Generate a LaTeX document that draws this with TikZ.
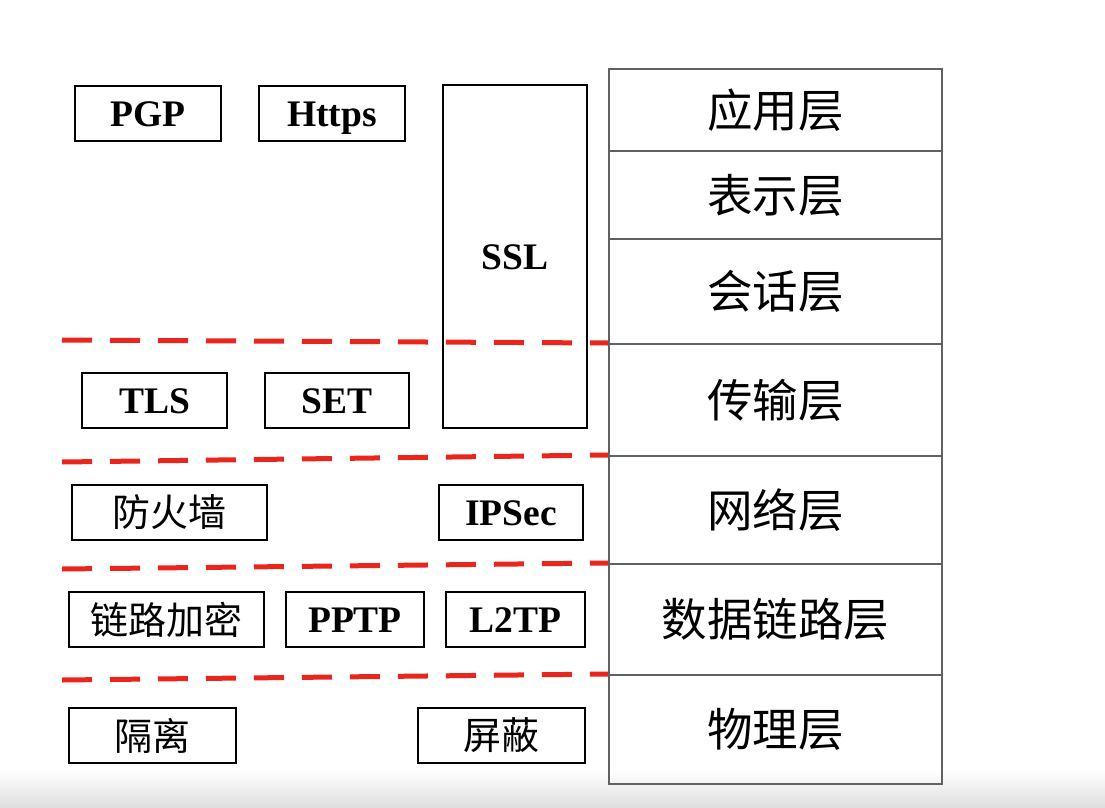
\documentclass[tikz,border=0pt]{standalone}
\usepackage{fontspec}
\setmainfont{Liberation Serif}
\newfontfamily\cjk{Noto Sans CJK SC}
\definecolor{cutred}{RGB}{232,38,28}
\begin{document}
\begin{tikzpicture}
[x=1pt,y=-1pt,%
  proto/.style={draw,line width=2.6pt,inner sep=0pt,minimum height=55pt,%
    text height=25pt,text depth=0pt,%
    font=\fontsize{37.5}{40}\selectfont\bfseries},%
  guard/.style={draw,line width=2.6pt,inner sep=0pt,minimum height=55pt,%
    font=\fontsize{38}{40}\selectfont\cjk},%
  layer/.style={draw=black!62,line width=2pt,inner sep=0pt,minimum width=333pt,%
    font=\fontsize{45.5}{48}\selectfont\cjk},%
  cut/.style={draw=cutred,line width=5pt,dash pattern=on 30pt off 18pt}]
\useasboundingbox (0,0) rectangle (1105,808);
\shade[top color=white,bottom color=black!13] (0,770) rectangle (1105,808);
% OSI layers
\node[layer,minimum height=82pt]  (app)   at (775.5,110)   {应用层};
\node[layer,minimum height=88pt]  (pres)  at (775.5,195)   {表示层};
\node[layer,minimum height=105pt] (sess)  at (775.5,291.5) {会话层};
\node[layer,minimum height=112pt] (trans) at (775.5,400)   {传输层};
\node[layer,minimum height=108pt] (net)   at (775.5,510)   {网络层};
\node[layer,minimum height=111pt] (link)  at (775.5,619.5) {数据链路层};
\node[layer,minimum height=109pt] (phys)  at (775.5,729.5) {物理层};
% security measures
\node[proto,minimum width=146pt] (pgp)   at (148,113.5)   {PGP};
\node[proto,minimum width=146pt] (https) at (332,113.5)   {Https};
\node[proto,minimum width=144pt,minimum height=343pt] (ssl) at (515,256.5) {SSL};
\node[proto,minimum width=145pt] (tls)   at (154.5,400.5) {TLS};
\node[proto,minimum width=144pt] (set)   at (337,400.5)   {SET};
\node[guard,minimum width=195pt] (fw)    at (169.5,512.5) {防火墙};
\node[proto,minimum width=144pt] (ipsec) at (511,512.5)   {IPSec};
\node[guard,minimum width=195pt] (enc)   at (166.5,619.5) {链路加密};
\node[proto,minimum width=138pt] (pptp)  at (355,619.5)   {PPTP};
\node[proto,minimum width=139pt] (ltwo)  at (515.5,619.5) {L2TP};
\node[guard,minimum width=167pt] (iso)   at (152.5,735.5) {隔离};
\node[guard,minimum width=167pt] (shld)  at (501.5,735.5) {屏蔽};
% dividing lines
\coordinate (c1) at (62,340);
\coordinate (c2) at (62,462);
\coordinate (c3) at (62,569);
\coordinate (c4) at (62,680);
\draw[cut] (c1) -- (trans.north west);
\draw[cut] (c2) -- (net.north west);
\draw[cut] (c3) -- (link.north west);
\draw[cut] (c4) -- (phys.north west);
\end{tikzpicture}
\end{document}
